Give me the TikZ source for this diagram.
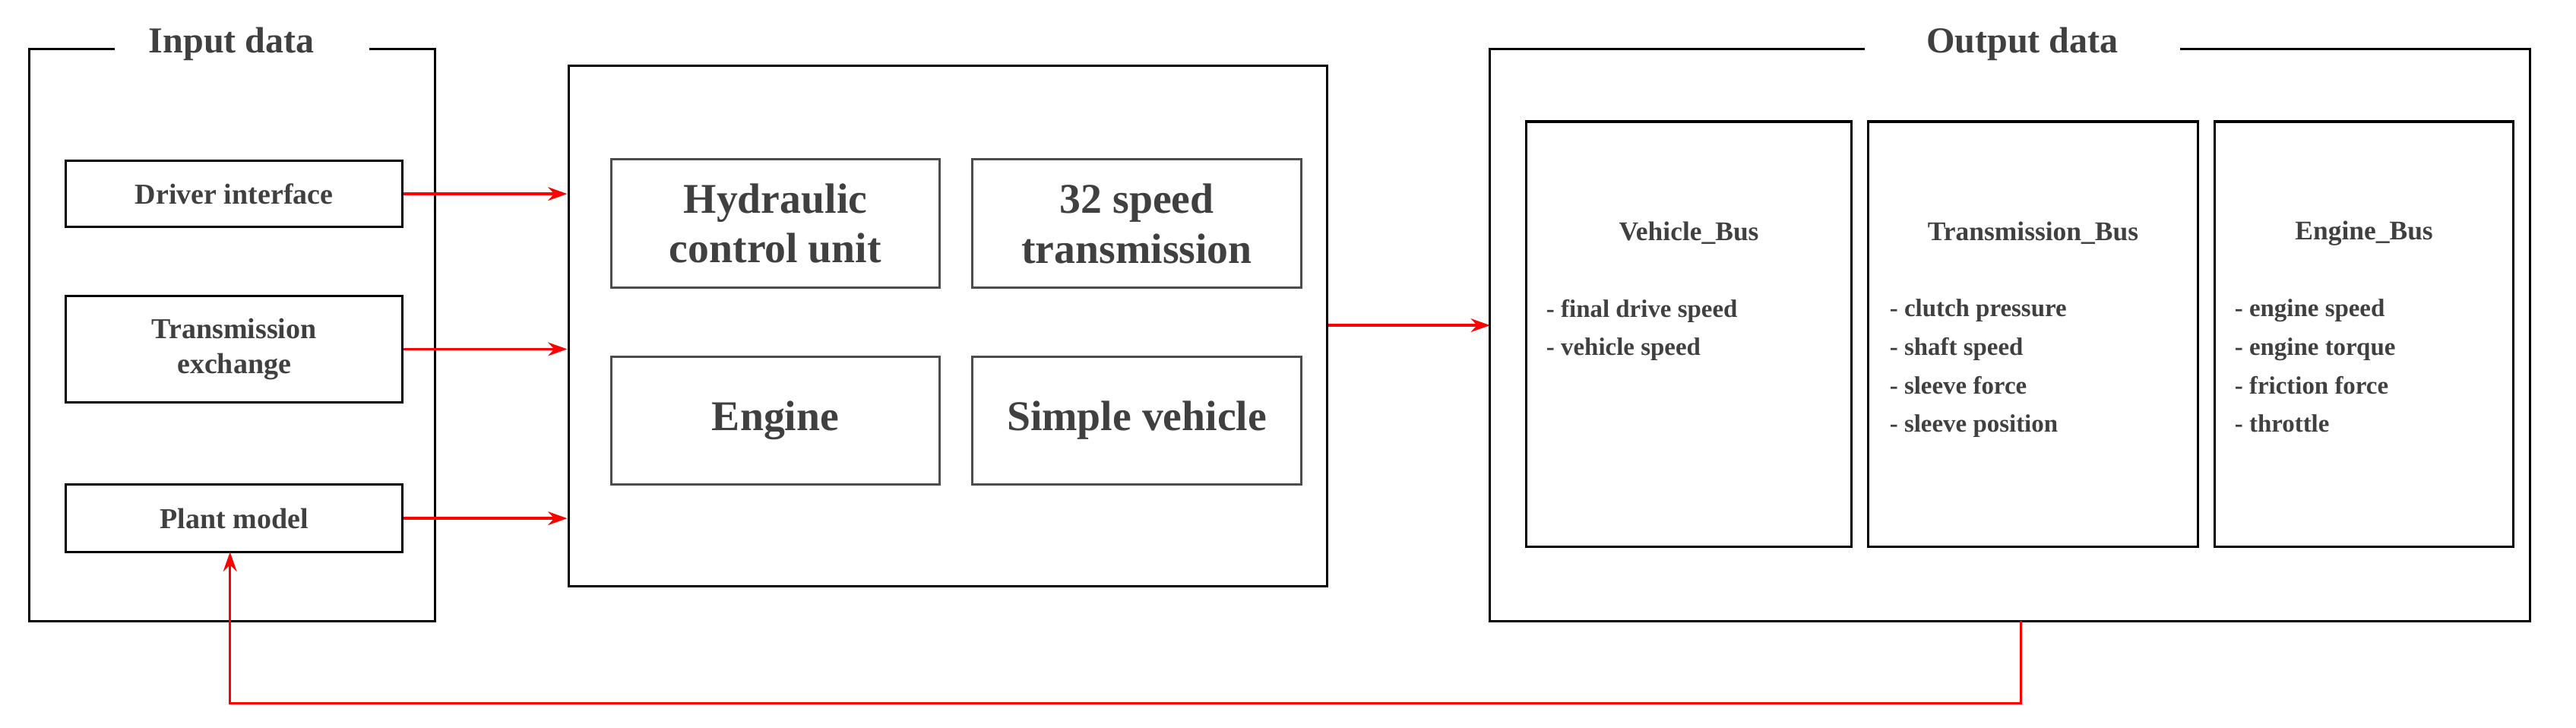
\documentclass[tikz,border=0pt]{standalone}
\usepackage{fontspec}
\setmainfont{Liberation Serif}
\usetikzlibrary{arrows.meta}
\definecolor{tx}{HTML}{404040}
\begin{document}
\begin{tikzpicture}[x=0.03cm,y=-0.03cm,
  box/.style={draw=black,line width=1.2pt},
  ibox/.style={draw=black!70,line width=1.2pt,text=tx,font=\bfseries\fontsize{22}{26}\selectfont,align=center,inner sep=0},
  sbox/.style={draw=black,line width=1.2pt,text=tx,font=\bfseries\fontsize{15}{18}\selectfont,align=center,inner sep=0},
  arr/.style={draw=red,line width=1.4pt,-{Stealth[length=10pt,width=7pt]}},
  lst/.style={text=tx,font=\bfseries\fontsize{13}{20}\selectfont,align=left,anchor=north west,inner sep=0}]
\useasboundingbox (0,0) rectangle (1568,443);
% input frame
\draw[box] (70,30) -- (18,30) -- (18,378) -- (265,378) -- (265,30) -- (225,30);
\node[text=tx,font=\bfseries\fontsize{19}{22}\selectfont] (tin) at (141,27) {Input data};
\node[sbox,minimum width=205\pgflinewidth/1.2pt*0+6.15cm,minimum height=1.2cm] (drv) at (142.5,118) {Driver interface};
\node[sbox,minimum width=6.15cm,minimum height=1.95cm] (tre) at (142.5,212.5) {Transmission\\exchange};
\node[sbox,minimum width=6.15cm,minimum height=1.23cm] (plt) at (142.5,315.5) {Plant model};
% middle
\node[box,minimum width=13.86cm,minimum height=9.51cm,inner sep=0] (mid) at (577,198.5) {};
\node[ibox,minimum width=6cm,minimum height=2.34cm] (hyd) at (472,136) {Hydraulic\\control unit};
\node[ibox,minimum width=6cm,minimum height=2.34cm] (spd) at (692,136) {32 speed\\transmission};
\node[ibox,minimum width=6cm,minimum height=2.34cm] (eng) at (472,256) {Engine};
\node[ibox,minimum width=6cm,minimum height=2.34cm] (veh) at (692,256) {Simple vehicle};
% output frame
\draw[box] (1135,30) -- (907,30) -- (907,378) -- (1540,378) -- (1540,30) -- (1327,30);
\node[text=tx,font=\bfseries\fontsize{19}{22}\selectfont] (tout) at (1231,27) {Output data};
\node[box,minimum width=5.94cm,minimum height=7.77cm,inner sep=0] (vb) at (1028,203.5) {};
\node[box,minimum width=6.03cm,minimum height=7.77cm,inner sep=0] (tb) at (1237.5,203.5) {};
\node[box,minimum width=5.46cm,minimum height=7.77cm,inner sep=0] (eb) at (1439,203.5) {};
\node[text=tx,font=\bfseries\fontsize{14}{17}\selectfont] at (1028,142) {Vehicle\_Bus};
\node[text=tx,font=\bfseries\fontsize{14}{17}\selectfont] at (1237.5,142) {Transmission\_Bus};
\node[text=tx,font=\bfseries\fontsize{14}{17}\selectfont] at (1439,142) {Engine\_Bus};
\node[lst] at (941,182) {- final drive speed\\- vehicle speed};
\node[lst] at (1150,182) {- clutch pressure\\- shaft speed\\- sleeve force\\- sleeve position};
\node[lst] at (1360,182) {- engine speed\\- engine torque\\- friction force\\- throttle};
% arrows
\draw[arr] (drv.east) -- (drv.east -| mid.west);
\draw[arr] (tre.east) -- (tre.east -| mid.west);
\draw[arr] (plt.east) -- (plt.east -| mid.west);
\draw[arr] (mid.east |- 0,198) -- (907,198);
\coordinate (fb) at (1230,378);
\draw[arr] (fb) -- (1230,428) -- (140,428) -- (140,336);
\end{tikzpicture}
\end{document}
